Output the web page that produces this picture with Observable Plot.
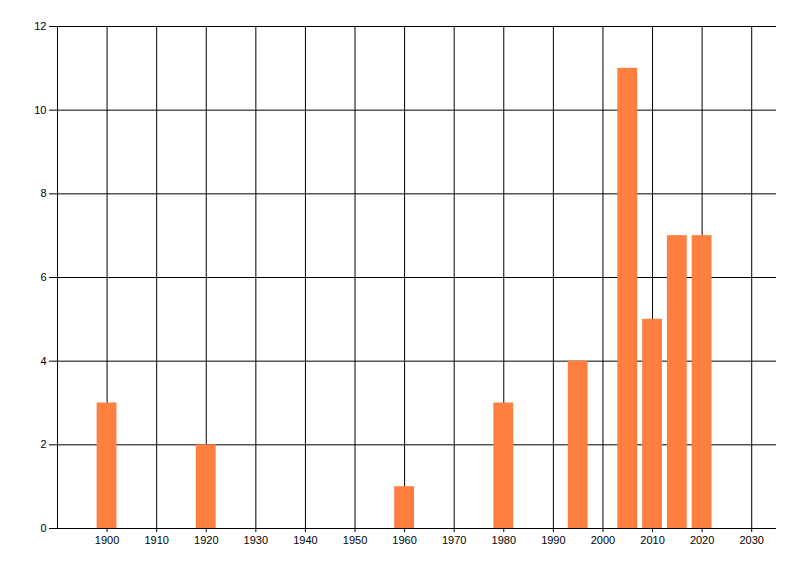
<!DOCTYPE html>
<html>
<head>
<meta charset="utf-8">
<script src="https://cdn.jsdelivr.net/npm/d3@7"></script>
<script src="https://cdn.jsdelivr.net/npm/@observablehq/plot@0.6"></script>
<style>
  html, body { margin: 0; padding: 0; background: #fff; }
  #chart svg { display: block; }
</style>
</head>
<body>
<div id="chart"></div>
<script>
const years = [1900, 1920, 1960, 1980, 1995, 2005, 2010, 2015, 2020];
const counts = [3, 2, 1, 3, 4, 11, 5, 7, 7];
const xDomain = [1890, 2035];
const xTicks = [1900, 1910, 1920, 1930, 1940, 1950, 1960, 1970, 1980, 1990, 2000, 2010, 2020, 2030];
const yTicks = [0, 2, 4, 6, 8, 10, 12];

const data = years.map((year, i) => ({ year, count: counts[i] }));
const barHalf = 2; // bars are 4 years wide

const chart = Plot.plot({
  width: 800,
  height: 576,
  marginLeft: 57,
  marginRight: 24,
  marginTop: 26,
  marginBottom: 48,
  style: { fontFamily: "Liberation Sans, Arial, sans-serif", fontSize: "11px", color: "#000", background: "#fff" },
  x: { type: "linear", domain: xDomain },
  y: { domain: [0, 12] },
  marks: [
    Plot.gridY(yTicks, { stroke: "#000", strokeOpacity: 1 }),
    Plot.gridX(xTicks, { stroke: "#000", strokeOpacity: 1 }),
    Plot.ruleX([xDomain[0]], { stroke: "#000" }),
    Plot.rectY(data, {
      x1: (d) => d.year - barHalf,
      x2: (d) => d.year + barHalf,
      y: "count",
      fill: "#ff7f41",
    }),
    Plot.axisY(yTicks, { tickSize: 8, tickPadding: 3, label: null, fontSize: 11 }),
    Plot.axisX(xTicks, { tickSize: 4, tickPadding: 4, label: null, fontSize: 11, tickFormat: (d) => String(d) }),
  ],
});

document.getElementById("chart").appendChild(chart);
</script>
</body>
</html>
